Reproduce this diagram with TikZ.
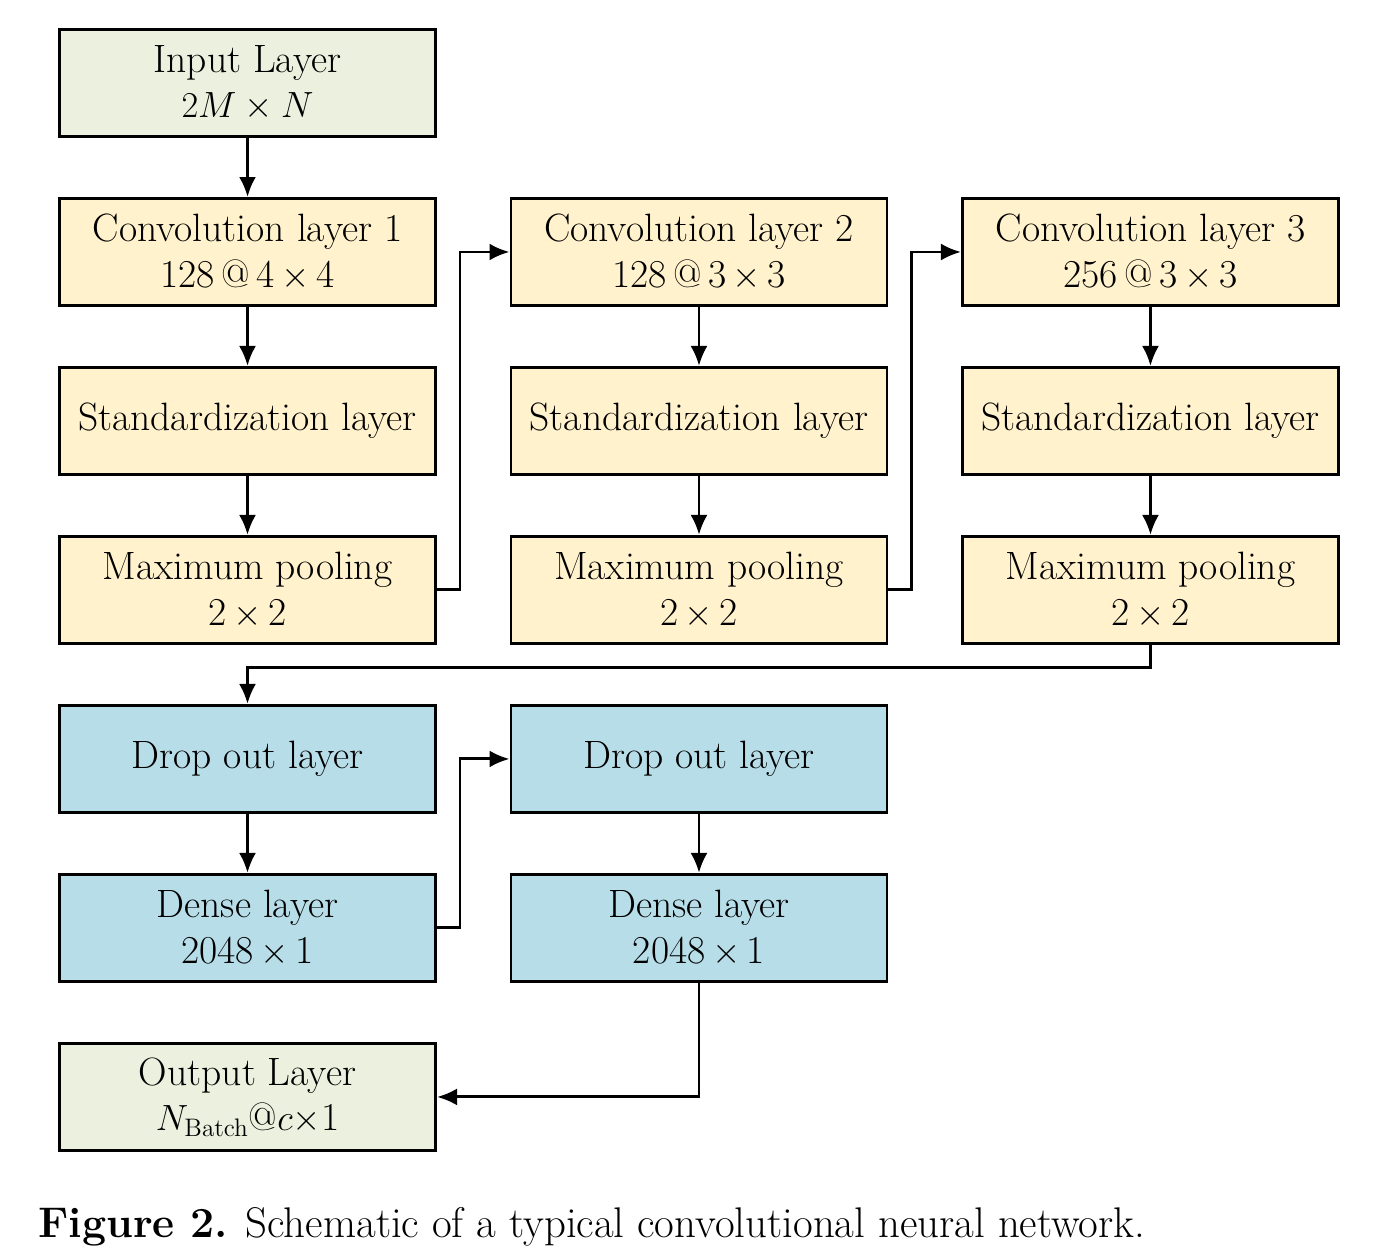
\documentclass[tikz,border=0pt]{standalone}
\usetikzlibrary{positioning,arrows.meta}

\definecolor{iogreen}{HTML}{EBF1DE}
\definecolor{convyellow}{HTML}{FFF2CC}
\definecolor{denseblue}{HTML}{B7DDE8}

\tikzset{
  layer/.style={draw,line width=1.7pt,minimum width=7.52cm,minimum height=2.14cm,
    inner sep=0,align=center,font=\fontsize{22.5}{26}\selectfont},
  iolayer/.style={layer,fill=iogreen},
  convlayer/.style={layer,fill=convyellow},
  denselayer/.style={layer,fill=denseblue},
  flow/.style={-{Latex[length=0.4cm,width=0.34cm]},line width=1.7pt},
}

\begin{document}
\begin{tikzpicture}[node distance=1.18cm and 1.45cm]
  \useasboundingbox (0,0) rectangle (27.46,-25.16);

  % The first column: input and first convolution block.
  \node[iolayer] (input) at (4.95,-1.66) {Input Layer\\$2M\times N$};
  \node[convlayer,below=of input] (conv1) {Convolution layer 1\\128\,@\,4\,$\times$\,4};
  \node[convlayer,below=of conv1] (std1) {Standardization layer};
  \node[convlayer,below=of std1] (max1) {Maximum pooling\\2\,$\times$\,2};

  % The second and third convolution blocks.
  \node[convlayer,right=of conv1] (conv2) {Convolution layer 2\\128\,@\,3\,$\times$\,3};
  \node[convlayer,below=of conv2] (std2) {Standardization layer};
  \node[convlayer,below=of std2] (max2) {Maximum pooling\\2\,$\times$\,2};
  \node[convlayer,right=of conv2] (conv3) {Convolution layer 3\\256\,@\,3\,$\times$\,3};
  \node[convlayer,below=of conv3] (std3) {Standardization layer};
  \node[convlayer,below=of std3] (max3) {Maximum pooling\\2\,$\times$\,2};

  % The dense part.
  \node[denselayer,below=of max1] (drop1) {Drop out layer};
  \node[denselayer,below=of drop1] (dense1) {Dense layer\\2048\,$\times$\,1};
  \node[denselayer,right=of drop1] (drop2) {Drop out layer};
  \node[denselayer,below=of drop2] (dense2) {Dense layer\\2048\,$\times$\,1};

  \node[iolayer,below=of dense1] (output)
    {Output Layer\\$N_{\mathrm{Batch}}$@$c$$\times$1};

  % Connect the layers.
  \foreach \a/\b in {input/conv1,conv1/std1,std1/max1,conv2/std2,std2/max2,
                     conv3/std3,std3/max3,drop1/dense1,drop2/dense2}
    \draw[flow] (\a) -- (\b);

  \draw[flow] (max1.east) -- ++(0.46,0) |- (conv2.west);
  \draw[flow] (max2.east) -- ++(0.46,0) |- (conv3.west);
  \draw[flow] (max3.south) -- ++(0,-0.46) -| (drop1.north);
  \draw[flow] (dense1.east) -- ++(0.46,0) |- (drop2.west);
  \draw[flow] (dense2.south) |- (output.east);

  % The caption.
  \node[anchor=base west,inner sep=0,font=\fontsize{24.4}{28}\selectfont] (caption)
    at (0.76,-24.74) {\textbf{Figure 2.} Schematic of a typical convolutional neural network.};
\end{tikzpicture}
\end{document}
